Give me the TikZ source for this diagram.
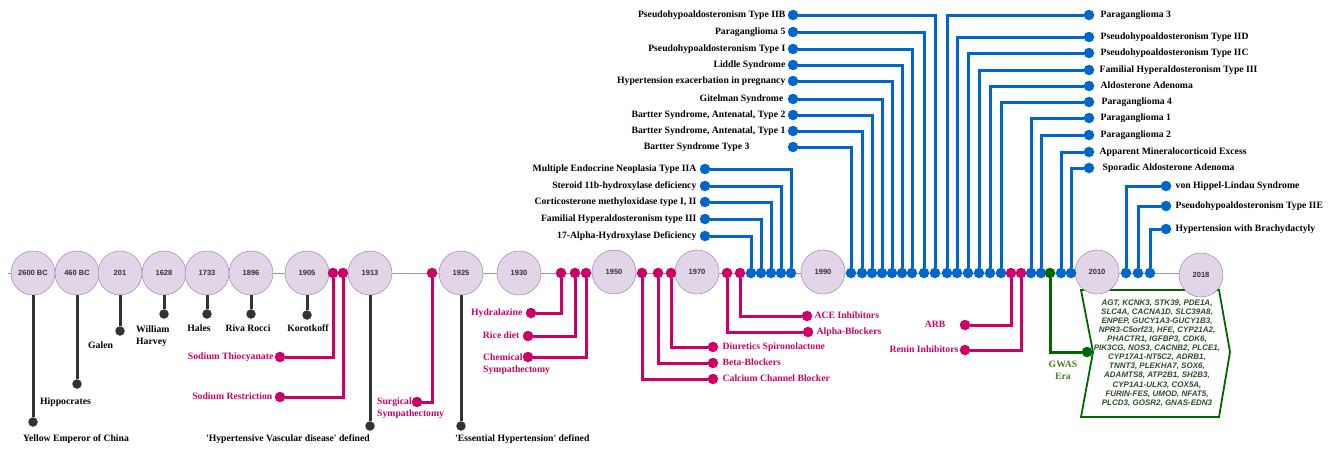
\documentclass[tikz,border=0pt]{standalone}
\usepackage{fontspec}
\setmainfont{Liberation Serif}
\setsansfont{Liberation Sans}
\usetikzlibrary{positioning}
\definecolor{yearfill}{HTML}{E1D5E7}
\definecolor{yeardraw}{HTML}{9673A6}
\definecolor{evblue}{HTML}{0066CC}
\definecolor{evpink}{HTML}{CC0066}
\definecolor{evgrey}{HTML}{333333}
\definecolor{evgreen}{HTML}{006600}
\definecolor{gwasgreen}{HTML}{4D7A26}
\definecolor{genegreen}{HTML}{2A4F2A}
\tikzset{
  yearstate/.style={
    circle,
    draw=yeardraw,
    fill=yearfill,
    minimum size=44pt,
    inner sep=0pt,
    text=evgrey,
    font=\sffamily\bfseries\fontsize{7.5}{9}\selectfont,
  },
  evdot/.style={circle, inner sep=0pt, minimum size=10.5pt},
  bluedot/.style={evdot, fill=evblue},
  pinkdot/.style={evdot, fill=evpink},
  greydot/.style={evdot, fill=evgrey, minimum size=9.5pt},
  greendot/.style={evdot, fill=evgreen},
  evline/.style={line width=3pt},
  blueline/.style={evline, draw=evblue},
  pinkline/.style={evline, draw=evpink},
  greyline/.style={evline, draw=evgrey},
  greenline/.style={evline, draw=evgreen},
  axisline/.style={draw=gray!80, line width=0.9pt},
  evtext/.style={font=\bfseries\fontsize{9.7}{12}\selectfont, inner sep=1pt},
  evlabel/.style={evtext, text height=6.6pt, text depth=2pt},
  pinklabel/.style={evlabel, text=evpink},
  pinktext/.style={evtext, text=evpink, align=left},
  genelist/.style={
    font=\sffamily\bfseries\itshape\fontsize{8}{9.1}\selectfont,
    text=genegreen,
    align=center,
    inner sep=0pt
  },
  genebox/.style={draw=evgreen, line width=1.8pt, fill=white}
}

\begin{document}
\begin{tikzpicture}[x=1pt, y=-1pt]
  \useasboundingbox (0,0) rectangle (1338,448);

  % Cadre GWAS
  \draw[genebox] (1081,290) -- (1219,290) -- (1230,352) -- (1219,417) -- (1081,417) -- (1093,352) -- cycle;
  \node[genelist] (genes) at (1157,353) {AGT, KCNK3, STK39, PDE1A,\\SLC4A, CACNA1D, SLC39A8,\\ENPEP, GUCY1A3-GUCY1B3,\\NPR3-C5orf23, HFE, CYP21A2,\\PHACTR1, IGFBP3, CDK6,\\PIK3CG, NOS3, CACNB2, PLCE1,\\CYP17A1-NT5C2, ADRB1,\\TNNT3, PLEKHA7, SOX6,\\ADAMTS8, ATP2B1, SH2B3,\\CYP1A1-ULK3, COX5A,\\FURIN-FES, UMOD, NFAT5,\\PLCD3, GOSR2, GNAS-EDN3};

  % Axe du temps
  \coordinate (axstart) at (8,273);
  \coordinate (axend) at (1190,273);
  \draw[axisline] (axstart) -- (axend);

  % Annees
  \node[yearstate] (y2600) at (33,273) {2600 BC};
  \node[yearstate] (y460) at (77,273) {460 BC};
  \node[yearstate] (y201) at (120,273) {201};
  \node[yearstate] (y1628) at (164,273) {1628};
  \node[yearstate] (y1733) at (207,273) {1733};
  \node[yearstate] (y1896) at (251,273) {1896};
  \node[yearstate] (y1905) at (307,273) {1905};
  \node[yearstate] (y1913) at (370,273) {1913};
  \node[yearstate] (y1925) at (461,273) {1925};
  \node[yearstate] (y1930) at (519,273) {1930};
  \node[yearstate] (y1950) at (614,272) {1950};
  \node[yearstate] (y1970) at (697,272) {1970};
  \node[yearstate] (y1990) at (823,272) {1990};
  \node[yearstate] (y2010) at (1097,272) {2010};
  \node[yearstate] (y2018) at (1201,275) {2018};

  % Histoire (gris)
  \node[greydot] (e2600) at (33,422) {};
  \node[greydot] (e460) at (77,384) {};
  \node[greydot] (e201) at (120,331) {};
  \node[greydot] (e1628) at (164,314) {};
  \node[greydot] (e1733) at (207,314) {};
  \node[greydot] (e1896) at (251,314) {};
  \node[greydot] (e1905) at (307,315) {};
  \node[greydot] (e1913) at (370,426) {};
  \node[greydot] (e1925) at (461,426) {};
  \node[evlabel, anchor=west] (t2600) at (22,439) {Yellow Emperor of China};
  \node[evlabel, anchor=west] (t460) at (39,402) {Hippocrates};
  \node[evlabel, anchor=west] (t201) at (87,346) {Galen};
  \node[evtext, align=left, anchor=west] (t1628) at (135,336) {William\\Harvey};
  \node[evlabel] (t1733) at (199,329) {Hales};
  \node[evlabel] (t1896) at (248,329) {Riva Rocci};
  \node[evlabel] (t1905) at (308,329) {Korotkoff};
  \node[evlabel, anchor=east] (t1913) at (371,439) {\textquotesingle Hypertensive Vascular disease\textquotesingle{} defined};
  \node[evlabel, anchor=west] (t1925) at (454,439) {\textquotesingle Essential Hypertension\textquotesingle{} defined};
  \draw[greyline] (y2600) -- (e2600);
  \draw[greyline] (y460) -- (e460);
  \draw[greyline] (y201) -- (e201);
  \draw[greyline] (y1628) -- (e1628);
  \draw[greyline] (y1733) -- (e1733);
  \draw[greyline] (y1896) -- (e1896);
  \draw[greyline] (y1905) -- (e1905);
  \draw[greyline] (y1913) -- (e1913);
  \draw[greyline] (y1925) -- (e1925);

  % Traitements (rose)
  \node[pinkdot] (p1) at (333,273) {};
  \node[pinkdot] (p2) at (343,273) {};
  \node[pinkdot] (p3) at (432,273) {};
  \node[pinkdot] (p4) at (561,273) {};
  \node[pinkdot] (p5) at (575,273) {};
  \node[pinkdot] (p6) at (586,273) {};
  \node[pinkdot] (p7) at (642,273) {};
  \node[pinkdot] (p8) at (658,273) {};
  \node[pinkdot] (p9) at (671,273) {};
  \node[pinkdot] (p10) at (727,273) {};
  \node[pinkdot] (p11) at (740,273) {};
  \node[pinkdot] (p12) at (1011,273) {};
  \node[pinkdot] (p13) at (1021,273) {};
  \node[pinkdot] (p1e) at (280,357) {};
  \node[pinkdot] (p2e) at (280,397) {};
  \node[pinkdot] (p3e) at (417,402) {};
  \node[pinkdot] (p4e) at (531,313) {};
  \node[pinkdot] (p5e) at (528,336) {};
  \node[pinkdot] (p6e) at (528,357) {};
  \node[pinkdot] (p7e) at (713,379) {};
  \node[pinkdot] (p8e) at (713,363) {};
  \node[pinkdot] (p9e) at (713,347) {};
  \node[pinkdot] (p10e) at (808,332) {};
  \node[pinkdot] (p11e) at (807,316) {};
  \node[pinkdot] (p12e) at (965,325) {};
  \node[pinkdot] (p13e) at (965,350) {};
  \node[pinklabel, left=0pt of p1e] (p1t) {Sodium Thiocyanate};
  \node[pinklabel, left=1pt of p2e] (p2t) {Sodium Restriction};
  \node[pinktext, anchor=west] (p3t) at (376,408) {Surgical\\Sympathectomy};
  \node[pinklabel, left=2pt of p4e] (p4t) {Hydralazine};
  \node[pinklabel, left=2pt of p5e] (p5t) {Rice diet};
  \node[pinktext, anchor=west] (p6t) at (482,364) {Chemical\\Sympathectomy};
  \node[pinklabel, right=3pt of p7e] (p7t) {Calcium Channel Blocker};
  \node[pinklabel, right=3pt of p8e] (p8t) {Beta-Blockers};
  \node[pinklabel, right=3pt of p9e] (p9t) {Diuretics Spironolactone};
  \node[pinklabel, right=2pt of p10e] (p10t) {Alpha-Blockers};
  \node[pinklabel, right=1pt of p11e] (p11t) {ACE Inhibitors};
  \node[pinklabel, left=13pt of p12e] (p12t) {ARB};
  \node[pinklabel, left=0pt of p13e] (p13t) {Renin Inhibitors};
  \draw[pinkline] (p1) |- (p1e);
  \draw[pinkline] (p2) |- (p2e);
  \draw[pinkline] (p3) |- (p3e);
  \draw[pinkline] (p4) |- (p4e);
  \draw[pinkline] (p5) |- (p5e);
  \draw[pinkline] (p6) |- (p6e);
  \draw[pinkline] (p7) |- (p7e);
  \draw[pinkline] (p8) |- (p8e);
  \draw[pinkline] (p9) |- (p9e);
  \draw[pinkline] (p10) |- (p10e);
  \draw[pinkline] (p11) |- (p11e);
  \draw[pinkline] (p12) |- (p12e);
  \draw[pinkline] (p13) |- (p13e);

  % Formes monogeniques (bleu)
  \node[bluedot] (b1) at (751,273) {};
  \node[bluedot] (b2) at (761,273) {};
  \node[bluedot] (b3) at (771,273) {};
  \node[bluedot] (b4) at (781,273) {};
  \node[bluedot] (b5) at (791,273) {};
  \node[bluedot] (b6) at (851,273) {};
  \node[bluedot] (b7) at (862,273) {};
  \node[bluedot] (b8) at (872,273) {};
  \node[bluedot] (b9) at (882,273) {};
  \node[bluedot] (b10) at (892,273) {};
  \node[bluedot] (b11) at (902,273) {};
  \node[bluedot] (b12) at (912,273) {};
  \node[bluedot] (b13) at (924,273) {};
  \node[bluedot] (b14) at (935,273) {};
  \node[bluedot] (b15) at (947,273) {};
  \node[bluedot] (b16) at (957,273) {};
  \node[bluedot] (b17) at (968,273) {};
  \node[bluedot] (b18) at (979,273) {};
  \node[bluedot] (b19) at (990,273) {};
  \node[bluedot] (b20) at (1001,273) {};
  \node[bluedot] (b21) at (1031,273) {};
  \node[bluedot] (b22) at (1041,273) {};
  \node[bluedot] (b23) at (1061,273) {};
  \node[bluedot] (b24) at (1071,273) {};
  \node[bluedot] (b25) at (1126,273) {};
  \node[bluedot] (b26) at (1138,273) {};
  \node[bluedot] (b27) at (1150,273) {};

  \node[bluedot] (b1e) at (705,236) {};
  \node[bluedot] (b2e) at (705,219) {};
  \node[bluedot] (b3e) at (705,202) {};
  \node[bluedot] (b4e) at (705,186) {};
  \node[bluedot] (b5e) at (705,169) {};
  \node[bluedot] (b6e) at (793,147) {};
  \node[bluedot] (b7e) at (793,131) {};
  \node[bluedot] (b8e) at (793,115) {};
  \node[bluedot] (b9e) at (793,99) {};
  \node[bluedot] (b10e) at (793,81) {};
  \node[bluedot] (b11e) at (793,65) {};
  \node[bluedot] (b12e) at (793,49) {};
  \node[bluedot] (b13e) at (793,32) {};
  \node[bluedot] (b14e) at (793,15) {};
  \node[bluedot] (b15e) at (1089,15) {};
  \node[bluedot] (b16e) at (1089,37) {};
  \node[bluedot] (b17e) at (1089,53) {};
  \node[bluedot] (b18e) at (1089,70) {};
  \node[bluedot] (b19e) at (1089,86) {};
  \node[bluedot] (b20e) at (1089,102) {};
  \node[bluedot] (b21e) at (1089,118) {};
  \node[bluedot] (b22e) at (1089,135) {};
  \node[bluedot] (b23e) at (1089,152) {};
  \node[bluedot] (b24e) at (1089,168) {};
  \node[bluedot] (b25e) at (1166,186) {};
  \node[bluedot] (b26e) at (1166,206) {};
  \node[bluedot] (b27e) at (1166,229) {};

  \node[evlabel, left=2pt of b1e] (b1t) {17-Alpha-Hydroxylase Deficiency};
  \node[evlabel, left=2pt of b2e] (b2t) {Familial Hyperaldosteronism type III};
  \node[evlabel, left=2pt of b3e] (b3t) {Corticosterone methyloxidase type I, II};
  \node[evlabel, left=2pt of b4e] (b4t) {Steroid 11b-hydroxylase deficiency};
  \node[evlabel, left=2pt of b5e] (b5t) {Multiple Endocrine Neoplasia Type IIA};
  \node[evlabel, left=37pt of b6e] (b6t) {Bartter Syndrome Type 3};
  \node[evlabel, left=1pt of b7e] (b7t) {Bartter Syndrome, Antenatal, Type 1};
  \node[evlabel, left=1pt of b8e] (b8t) {Bartter Syndrome, Antenatal, Type 2};
  \node[evlabel, left=3pt of b9e] (b9t) {Gitelman Syndrome};
  \node[evlabel, left=1pt of b10e] (b10t) {Hypertension exacerbation in pregnancy};
  \node[evlabel, left=1pt of b11e] (b11t) {Liddle Syndrome};
  \node[evlabel, left=1pt of b12e] (b12t) {Pseudohypoaldosteronism Type I};
  \node[evlabel, left=1pt of b13e] (b13t) {Paraganglioma 5};
  \node[evlabel, left=1pt of b14e] (b14t) {Pseudohypoaldosteronism Type IIB};
  \node[evlabel, right=5pt of b15e] (b15t) {Paraganglioma 3};
  \node[evlabel, right=5pt of b16e] (b16t) {Pseudohypoaldosteronism Type IID};
  \node[evlabel, right=5pt of b17e] (b17t) {Pseudohypoaldosteronism Type IIC};
  \node[evlabel, right=4pt of b18e] (b18t) {Familial Hyperaldosteronism Type III};
  \node[evlabel, right=5pt of b19e] (b19t) {Aldosterone Adenoma};
  \node[evlabel, right=6pt of b20e] (b20t) {Paraganglioma 4};
  \node[evlabel, right=5pt of b21e] (b21t) {Paraganglioma 1};
  \node[evlabel, right=5pt of b22e] (b22t) {Paraganglioma 2};
  \node[evlabel, right=4pt of b23e] (b23t) {Apparent Mineralocorticoid Excess};
  \node[evlabel, right=7pt of b24e] (b24t) {Sporadic Aldosterone Adenoma};
  \node[evlabel, right=3pt of b25e] (b25t) {von Hippel-Lindau Syndrome};
  \node[evlabel, right=3pt of b26e] (b26t) {Pseudohypoaldosteronism Type IIE};
  \node[evlabel, right=3pt of b27e] (b27t) {Hypertension with Brachydactyly};

  \draw[blueline] (b1) |- (b1e);
  \draw[blueline] (b2) |- (b2e);
  \draw[blueline] (b3) |- (b3e);
  \draw[blueline] (b4) |- (b4e);
  \draw[blueline] (b5) |- (b5e);
  \draw[blueline] (b6) |- (b6e);
  \draw[blueline] (b7) |- (b7e);
  \draw[blueline] (b8) |- (b8e);
  \draw[blueline] (b9) |- (b9e);
  \draw[blueline] (b10) |- (b10e);
  \draw[blueline] (b11) |- (b11e);
  \draw[blueline] (b12) |- (b12e);
  \draw[blueline] (b13) |- (b13e);
  \draw[blueline] (b14) |- (b14e);
  \draw[blueline] (b15) |- (b15e);
  \draw[blueline] (b16) |- (b16e);
  \draw[blueline] (b17) |- (b17e);
  \draw[blueline] (b18) |- (b18e);
  \draw[blueline] (b19) |- (b19e);
  \draw[blueline] (b20) |- (b20e);
  \draw[blueline] (b21) |- (b21e);
  \draw[blueline] (b22) |- (b22e);
  \draw[blueline] (b23) |- (b23e);
  \draw[blueline] (b24) |- (b24e);
  \draw[blueline] (b25) |- (b25e);
  \draw[blueline] (b26) |- (b26e);
  \draw[blueline] (b27) |- (b27e);

  % Ere GWAS (vert)
  \node[greendot] (g1) at (1050,273) {};
  \node[greendot] (g1e) at (1087,352) {};
  \node[evtext, align=center, text=gwasgreen] (g1t) at (1063,370) {GWAS\\Era};
  \draw[greenline] (g1) |- (g1e);
\end{tikzpicture}
\end{document}
